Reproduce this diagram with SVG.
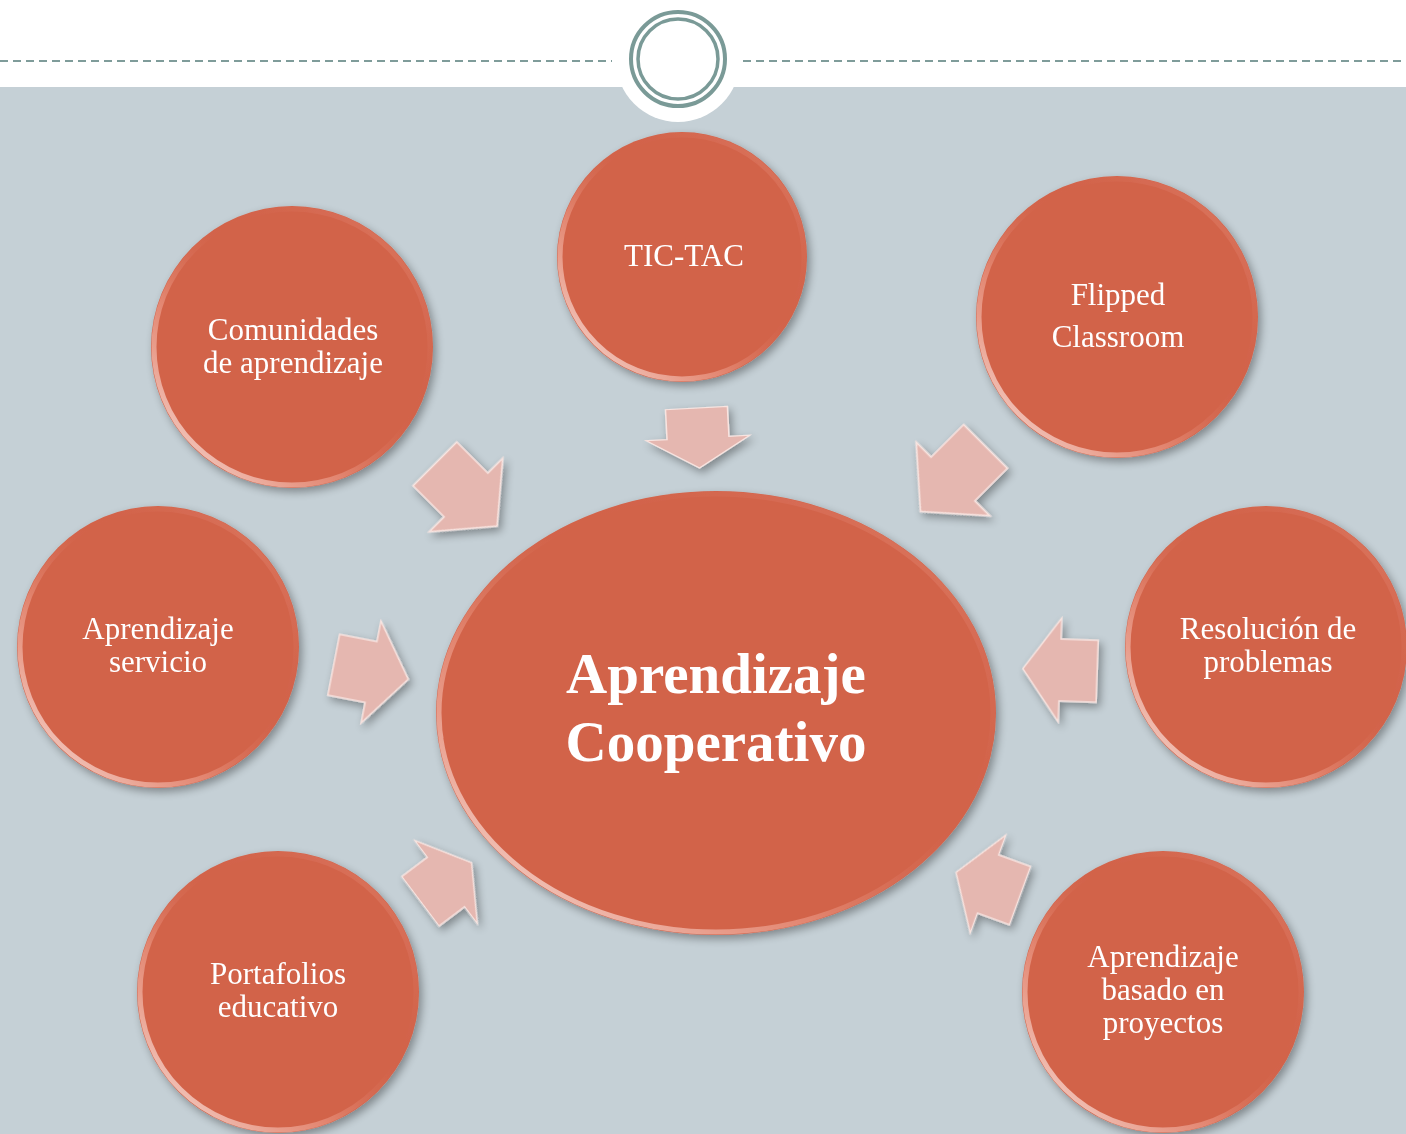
<svg xmlns="http://www.w3.org/2000/svg" width="1406" height="1134" viewBox="0 0 1406 1134">
  <defs>
    <style>
      .node { fill: #D2634A; }
      .rim { fill: none; stroke: url(#rimGrad); stroke-width: 5; }
      .lbl { font-family: "Liberation Serif", "Times New Roman", serif; font-size: 31px; fill: #FFFFFF; text-anchor: middle; }
      .big { font-family: "Liberation Serif", "Times New Roman", serif; font-size: 57px; font-weight: bold; fill: #FFFFFF; text-anchor: middle; }
      .arr { fill: #E5B7B0; stroke: #F8E4E0; stroke-width: 1.5; stroke-linejoin: miter; }
    </style>
    <linearGradient id="rimGrad" x1="0" y1="1" x2="1" y2="0">
      <stop offset="0" stop-color="#FFFFFF" stop-opacity="0.9"/>
      <stop offset="0.35" stop-color="#F3A896" stop-opacity="0.5"/>
      <stop offset="0.6" stop-color="#D2634A" stop-opacity="0"/>
      <stop offset="1" stop-color="#F0A090" stop-opacity="0.5"/>
    </linearGradient>
    <filter id="shadow" x="-20%" y="-20%" width="140%" height="140%">
      <feGaussianBlur in="SourceAlpha" stdDeviation="4"/>
      <feOffset dx="3" dy="4" result="b"/>
      <feComponentTransfer><feFuncA type="linear" slope="0.35"/></feComponentTransfer>
      <feMerge><feMergeNode/><feMergeNode in="SourceGraphic"/></feMerge>
    </filter>
    <path id="arrow" d="M-40,-31 L0,-31 L0,-52 L40,0 L0,52 L0,31 L-40,31 Z"/>
  </defs>

  <!-- background -->
  <rect x="0" y="0" width="1406" height="1134" fill="#FFFFFF"/>
  <rect x="0" y="87" width="1406" height="1047" fill="#C5D0D6"/>
  <line x1="0" y1="61" x2="612" y2="61" stroke="#7F9C9A" stroke-width="2" stroke-dasharray="8 5"/>
  <line x1="743" y1="61" x2="1406" y2="61" stroke="#7F9C9A" stroke-width="2" stroke-dasharray="8 5"/>
  <circle cx="678" cy="60" r="62" fill="#FFFFFF"/>
  <circle cx="678" cy="59" r="47" fill="none" stroke="#7A9A97" stroke-width="4"/>
  <circle cx="678" cy="59" r="40" fill="none" stroke="#7A9A97" stroke-width="3.5"/>

  <!-- connectors (block arrows) -->
  <g id="connectors" filter="url(#shadow)">
    <use href="#arrow" class="arr" transform="translate(698,438) rotate(87) scale(0.75,1)"/>
    <use href="#arrow" class="arr" transform="translate(466,495) rotate(45) scale(1.1,1)"/>
    <use href="#arrow" class="arr" transform="translate(953,479) rotate(135) scale(1.15,1)"/>
    <use href="#arrow" class="arr" transform="translate(371,672) rotate(11) scale(0.95,1)"/>
    <use href="#arrow" class="arr" transform="translate(1060,670) rotate(182) scale(0.93,1)"/>
    <use href="#arrow" class="arr" transform="translate(446,882) rotate(-37) scale(0.8,1)"/>
    <use href="#arrow" class="arr" transform="translate(988,884) rotate(200) scale(0.85,1)"/>
  </g>

  <!-- nodes -->
  <g id="node-center" filter="url(#shadow)">
    <ellipse class="node" cx="716" cy="713" rx="280" ry="222"/>
    <ellipse class="rim" cx="716" cy="713" rx="277" ry="219"/>
    <text class="big" x="716" y="693">Aprendizaje</text>
    <text class="big" x="716" y="761">Cooperativo</text>
  </g>
  <g id="node-tictac" filter="url(#shadow)">
    <circle class="node" cx="682" cy="257" r="125"/>
    <circle class="rim" cx="682" cy="257" r="122"/>
    <text class="lbl" x="684" y="266">TIC-TAC</text>
  </g>
  <g id="node-comunidades" filter="url(#shadow)">
    <circle class="node" cx="292" cy="347" r="141"/>
    <circle class="rim" cx="292" cy="347" r="138"/>
    <text class="lbl" x="293" y="340">Comunidades</text>
    <text class="lbl" x="293" y="373">de aprendizaje</text>
  </g>
  <g id="node-flipped" filter="url(#shadow)">
    <circle class="node" cx="1117" cy="317" r="141"/>
    <circle class="rim" cx="1117" cy="317" r="138"/>
    <text class="lbl" x="1118" y="305">Flipped</text>
    <text class="lbl" x="1118" y="347">Classroom</text>
  </g>
  <g id="node-servicio" filter="url(#shadow)">
    <circle class="node" cx="158" cy="647" r="141"/>
    <circle class="rim" cx="158" cy="647" r="138"/>
    <text class="lbl" x="158" y="639">Aprendizaje</text>
    <text class="lbl" x="158" y="672">servicio</text>
  </g>
  <g id="node-resolucion" filter="url(#shadow)">
    <circle class="node" cx="1266" cy="647" r="141"/>
    <circle class="rim" cx="1266" cy="647" r="138"/>
    <text class="lbl" x="1268" y="639">Resolución de</text>
    <text class="lbl" x="1268" y="672">problemas</text>
  </g>
  <g id="node-portafolios" filter="url(#shadow)">
    <circle class="node" cx="278" cy="992" r="141"/>
    <circle class="rim" cx="278" cy="992" r="138"/>
    <text class="lbl" x="278" y="984">Portafolios</text>
    <text class="lbl" x="278" y="1017">educativo</text>
  </g>
  <g id="node-proyectos" filter="url(#shadow)">
    <circle class="node" cx="1163" cy="992" r="141"/>
    <circle class="rim" cx="1163" cy="992" r="138"/>
    <text class="lbl" x="1163" y="967">Aprendizaje</text>
    <text class="lbl" x="1163" y="1000">basado en</text>
    <text class="lbl" x="1163" y="1033">proyectos</text>
  </g>
</svg>
